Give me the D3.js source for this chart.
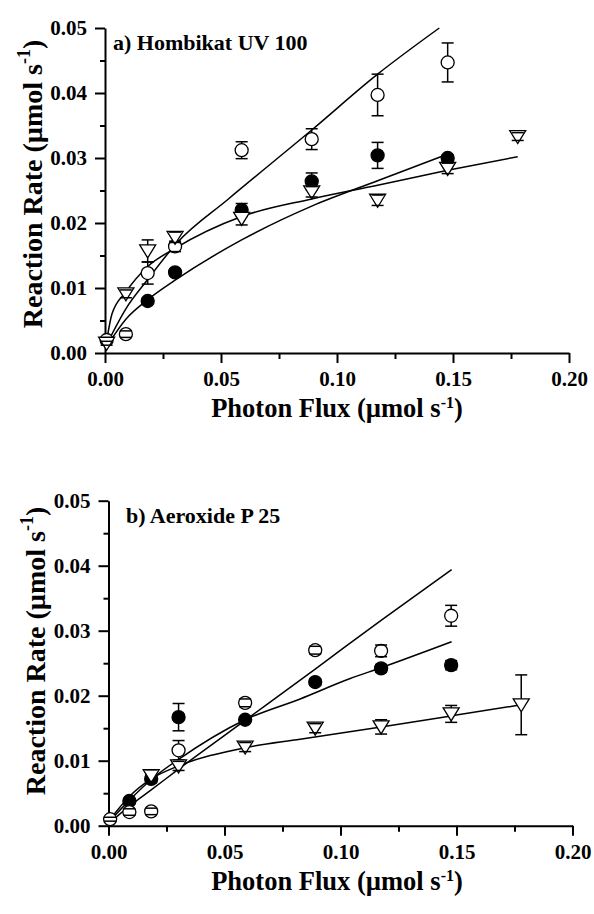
<!DOCTYPE html>
<html>
<head>
<meta charset="utf-8">
<script src="https://cdn.jsdelivr.net/npm/d3@7"></script>
<style>
  html, body { margin: 0; padding: 0; background: #fff; }
  svg { display: block; }
</style>
</head>
<body>
<svg id="chart" width="594" height="914"></svg>
<script>
const FONT = "'Liberation Serif', 'DejaVu Serif', 'Times New Roman', Times, serif";

// Axis ticks
const xTicks = [0, 0.05, 0.10, 0.15, 0.20];
const yTicks = [0, 0.01, 0.02, 0.03, 0.04, 0.05];

// Measured points: [photon flux, reaction rate, error]
// a) Hombikat UV 100
const hombikatOpen = [
  [0.0007, 0.0020, 0.0003], [0.009, 0.0029, 0.0005], [0.0184, 0.0123, 0.0017],
  [0.0302, 0.0164, 0.0008], [0.0589, 0.0312, 0.0013], [0.0891, 0.0329, 0.0016],
  [0.1175, 0.0397, 0.0032], [0.1477, 0.0447, 0.0030]
];
const hombikatFilled = [
  [0.0184, 0.0080, 0.0004], [0.0302, 0.0124, 0.0005], [0.0589, 0.0220, 0.0010],
  [0.0891, 0.0264, 0.0013], [0.1175, 0.0304, 0.0020], [0.1477, 0.0300, 0.0005]
];
const hombikatTriangle = [
  [0.0007, 0.0015, 0.0003], [0.009, 0.0091, 0.0006], [0.0184, 0.0157, 0.0017],
  [0.0302, 0.0178, 0.0008], [0.0589, 0.0207, 0.0010], [0.0891, 0.0248, 0.0008],
  [0.1175, 0.0235, 0.0008], [0.1477, 0.0284, 0.0008], [0.1779, 0.0333, 0.0006]
];
// Fitted curves: [photon flux, reaction rate]
const hombikatOpenFit = [
  [0.0007, 0.0013], [0.009, 0.0068], [0.0184, 0.0113], [0.0309, 0.0169],
  [0.0532, 0.0237], [0.0891, 0.0343], [0.1175, 0.0429], [0.1441, 0.0500]
];
const hombikatFilledFit = [
  [0.0007, 0.0010], [0.009, 0.0052], [0.0184, 0.0082], [0.0302, 0.0112],
  [0.0589, 0.0174], [0.0891, 0.0226], [0.1175, 0.0265], [0.147, 0.0305]
];
const hombikatTriangleFit = [
  [0.0007, 0.0018], [0.003, 0.0060], [0.009, 0.0094], [0.0184, 0.0133],
  [0.0302, 0.0161], [0.0589, 0.0210], [0.0891, 0.0237], [0.1175, 0.0258],
  [0.1477, 0.0281], [0.1779, 0.0302]
];

// b) Aeroxide P 25
const aeroxideOpen = [
  [0.0007, 0.0010, 0.0003], [0.009, 0.0021, 0.0005], [0.0184, 0.0022, 0.0005],
  [0.0302, 0.0116, 0.0015], [0.0589, 0.0189, 0.0006], [0.0891, 0.0270, 0.0006],
  [0.1175, 0.0269, 0.0009], [0.1477, 0.0323, 0.0016]
];
const aeroxideFilled = [
  [0.009, 0.0038, 0.0004], [0.0184, 0.0072, 0.0006], [0.0302, 0.0167, 0.0021],
  [0.0589, 0.0163, 0.0004], [0.0891, 0.0221, 0.0005], [0.1175, 0.0242, 0.0006],
  [0.1477, 0.0247, 0.0007]
];
const aeroxideTriangle = [
  [0.0184, 0.0077, 0.0009], [0.0302, 0.0092, 0.0007], [0.0589, 0.0121, 0.0007],
  [0.0891, 0.0150, 0.0007], [0.1175, 0.0152, 0.0011], [0.1477, 0.0172, 0.0013],
  [0.1779, 0.0186, 0.0046]
];
const aeroxideOpenFit = [
  [0.0007, 0.0005], [0.009, 0.0030], [0.0184, 0.0055], [0.0302, 0.0087],
  [0.0589, 0.0162], [0.0891, 0.0241], [0.1175, 0.0316], [0.1479, 0.0394]
];
const aeroxideFilledFit = [
  [0.0007, 0.0008], [0.009, 0.0039], [0.0184, 0.0071], [0.0302, 0.0102],
  [0.0589, 0.0163], [0.0826, 0.0195], [0.1039, 0.0226], [0.1175, 0.0243],
  [0.1479, 0.0283]
];
const aeroxideTriangleFit = [
  [0.0007, 0.0010], [0.009, 0.0045], [0.0184, 0.0072], [0.0302, 0.0092],
  [0.0589, 0.0120], [0.0826, 0.0133], [0.1175, 0.0152], [0.1479, 0.0169],
  [0.1779, 0.0186]
];

const svg = d3.select("#chart");

const panels = [
  {
    title: "a) Hombikat UV 100", titleX: 113, titleY: 50,
    left: 105, right: 569, top: 28, bottom: 353,
    yTitleX: 42, yTitleY: 184, xTitleY: 417,
    fits: [hombikatOpenFit, hombikatFilledFit, hombikatTriangleFit],
    series: [
      { data: hombikatFilled, shape: "circle", fill: "#000" },
      { data: hombikatOpen, shape: "circle", fill: "#fff" },
      { data: hombikatTriangle, shape: "triangle", fill: "#fff" }
    ]
  },
  {
    title: "b) Aeroxide P 25", titleX: 126, titleY: 523,
    left: 108.5, right: 572.5, top: 500.7, bottom: 825.7,
    yTitleX: 45, yTitleY: 651, xTitleY: 890,
    fits: [aeroxideOpenFit, aeroxideFilledFit, aeroxideTriangleFit],
    series: [
      { data: aeroxideFilled, shape: "circle", fill: "#000" },
      { data: aeroxideOpen, shape: "circle", fill: "#fff" },
      { data: aeroxideTriangle, shape: "triangle", fill: "#fff" }
    ]
  }
];

const R = 6.5;             // circle radius
const TRI_UP = 6, TRI_DN = 7, TRI_HW = 8;
const CAP = 6;

function styleText(sel, size) {
  sel.attr("font-family", FONT).attr("font-weight", "bold")
    .attr("font-size", size).attr("fill", "#000");
}

panels.forEach(p => {
  const x = d3.scaleLinear().domain([0, 0.2]).range([p.left, p.right]);
  const y = d3.scaleLinear().domain([0, 0.05]).range([p.bottom, p.top]);
  const g = svg.append("g");

  // minor ticks
  g.append("g")
    .attr("transform", `translate(0,${p.bottom})`)
    .call(d3.axisBottom(x).tickValues([0.025, 0.075, 0.125, 0.175]).tickSize(6).tickFormat(""))
    .call(a => a.select(".domain").remove())
    .call(a => a.selectAll("line").attr("stroke-width", 2));
  g.append("g")
    .attr("transform", `translate(${p.left},0)`)
    .call(d3.axisLeft(y).tickValues([0.005, 0.015, 0.025, 0.035, 0.045]).tickSize(5).tickFormat(""))
    .call(a => a.select(".domain").remove())
    .call(a => a.selectAll("line").attr("stroke-width", 2));

  // major axes
  const xAxis = g.append("g")
    .attr("transform", `translate(0,${p.bottom})`)
    .call(d3.axisBottom(x).tickValues(xTicks).tickSize(10).tickSizeOuter(0).tickPadding(8).tickFormat(d3.format(".2f")));
  const yAxis = g.append("g")
    .attr("transform", `translate(${p.left},0)`)
    .call(d3.axisLeft(y).tickValues(yTicks).tickSize(10).tickSizeOuter(0).tickPadding(8).tickFormat(d3.format(".2f")));
  [xAxis, yAxis].forEach(a => {
    a.attr("font-family", FONT).attr("font-size", 21).attr("font-weight", "bold");
    a.select(".domain").attr("stroke-width", 2);
    a.selectAll(".tick line").attr("stroke-width", 2);
    styleText(a.selectAll("text"), 21);
  });

  // fitted curves
  const line = d3.line().x(d => x(d[0])).y(d => y(d[1])).curve(d3.curveMonotoneX);
  p.fits.forEach(f => {
    g.append("path").attr("d", line(f)).attr("fill", "none")
      .attr("stroke", "#000").attr("stroke-width", 1.5);
  });

  // markers and error bars
  p.series.forEach(s => {
    const sg = g.append("g");
    s.data.forEach(d => {
      const cx = x(d[0]), cy = y(d[1]);
      const hi = y(d[1] + d[2]), lo = y(d[1] - d[2]);
      const gapUp = s.shape === "circle" ? R : TRI_UP;
      const gapDn = s.shape === "circle" ? R : TRI_DN;
      if (s.shape === "circle") {
        sg.append("circle").attr("cx", cx).attr("cy", cy).attr("r", R)
          .attr("fill", s.fill).attr("stroke", "#000").attr("stroke-width", 1.3);
      } else {
        sg.append("path")
          .attr("d", `M${cx - TRI_HW},${cy - TRI_UP}L${cx + TRI_HW},${cy - TRI_UP}L${cx},${cy + TRI_DN}Z`)
          .attr("fill", s.fill).attr("stroke", "#000").attr("stroke-width", 1.3);
      }
      const eb = sg.append("g").attr("stroke", "#000").attr("stroke-width", 1.5);
      if (cy - hi > gapUp) eb.append("line").attr("x1", cx).attr("x2", cx).attr("y1", cy - gapUp).attr("y2", hi);
      if (lo - cy > gapDn) eb.append("line").attr("x1", cx).attr("x2", cx).attr("y1", cy + gapDn).attr("y2", lo);
      eb.append("line").attr("x1", cx - CAP).attr("x2", cx + CAP).attr("y1", hi).attr("y2", hi);
      eb.append("line").attr("x1", cx - CAP).attr("x2", cx + CAP).attr("y1", lo).attr("y2", lo);
    });
  });

  // panel title
  styleText(g.append("text").attr("x", p.titleX).attr("y", p.titleY).text(p.title), 22);

  // axis titles
  const xt = g.append("text").attr("x", 337).attr("y", p.xTitleY)
    .attr("text-anchor", "middle");
  styleText(xt, 26.5);
  xt.append("tspan").text("Photon Flux (µmol s");
  xt.append("tspan").attr("dy", -9).attr("font-size", 16).text("-1");
  xt.append("tspan").attr("dy", 9).text(")");

  const yt = g.append("text")
    .attr("transform", `translate(${p.yTitleX},${p.yTitleY}) rotate(-90)`)
    .attr("text-anchor", "middle");
  styleText(yt, 28);
  yt.append("tspan").text("Reaction Rate (µmol s");
  yt.append("tspan").attr("dy", -12).attr("font-size", 18).text("-1");
  yt.append("tspan").attr("dy", 12).text(")");
});
</script>
</body>
</html>
